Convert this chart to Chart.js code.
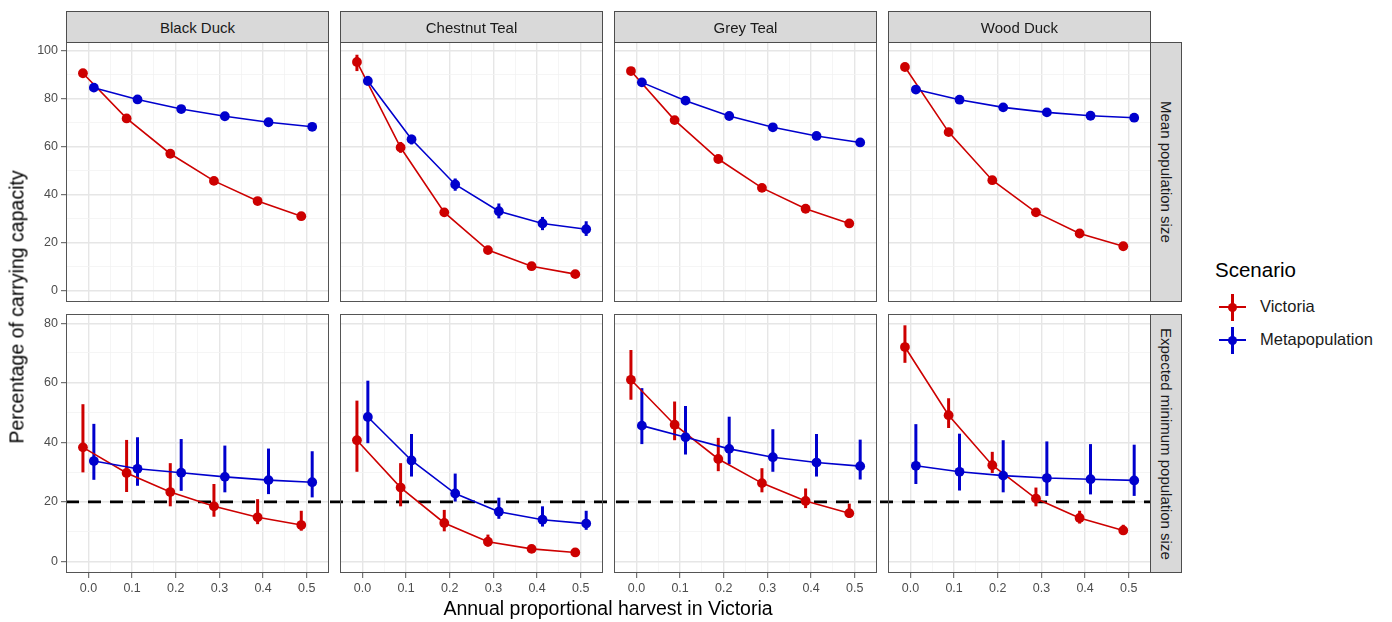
<!DOCTYPE html>
<html>
<head>
<meta charset="utf-8">
<script src="https://cdn.jsdelivr.net/npm/chart.js@4.4.1/dist/chart.umd.min.js"></script>
<style>
  body { margin: 0; background: #fff; font-family: "Liberation Sans", Arial, sans-serif; }
  #wrap { position: relative; width: 1392px; height: 622px; overflow: hidden; }
  canvas { position: absolute; }
  .strip { position: absolute; background: #d9d9d9; border: 1px solid #4d4d4d; box-sizing: border-box;
           display: flex; align-items: center; justify-content: center; font-size: 15px; color: #1a1a1a; }
  .strip.right { writing-mode: vertical-rl; }
  .lbl { position: absolute; white-space: nowrap; color: #000; }
  .key-h, .key-v, .key-dot { position: absolute; }
</style>
</head>
<body>
<div id="wrap"></div>
<script>
// facets
const SPECIES = ['Black Duck', 'Chestnut Teal', 'Grey Teal', 'Wood Duck'];
const MEASURES = ['Mean population size', 'Expected minimum population size'];
const SCENARIOS = ['Victoria', 'Metapopulation'];
const HARVEST = [0, 0.1, 0.2, 0.3, 0.4, 0.5];
const THRESHOLD = 20;

// Mean population size (% of K), Victoria scenario, one row per species
const MEAN_VIC = [
  [90.6, 71.8, 57.1, 45.8, 37.4, 31.1],
  [95.3, 59.7, 32.7, 17.0, 10.3, 7.0],
  [91.5, 71.1, 54.9, 42.9, 34.2, 28.1],
  [93.2, 66.1, 46.1, 32.7, 23.9, 18.6]
];
const MEAN_VIC_LO = [
  [89.4, 70.8, 56.2, 45.0, 36.7, 30.4],
  [91.5, 57.5, 31.0, 16.0, 9.5, 6.3],
  [90.4, 70.1, 54.0, 42.1, 33.5, 27.5],
  [92.1, 65.0, 45.1, 31.9, 23.2, 18.0]
];
const MEAN_VIC_HI = [
  [91.8, 72.8, 58.0, 46.6, 38.1, 31.8],
  [98.3, 62.0, 34.5, 18.2, 11.0, 7.7],
  [92.6, 72.1, 55.8, 43.7, 34.9, 28.7],
  [94.3, 67.2, 47.1, 33.5, 24.6, 19.2]
];
// Mean population size, Metapopulation scenario
const MEAN_META = [
  [84.6, 79.7, 75.7, 72.7, 70.2, 68.3],
  [87.4, 63.1, 44.3, 33.2, 28.1, 25.7],
  [86.8, 79.2, 72.8, 68.1, 64.5, 61.8],
  [83.8, 79.6, 76.4, 74.3, 72.9, 72.1]
];
const MEAN_META_LO = [
  [83.6, 78.8, 74.8, 71.8, 69.3, 67.4],
  [85.5, 61.0, 41.7, 30.2, 25.3, 22.9],
  [85.8, 78.3, 71.9, 67.2, 63.6, 60.9],
  [82.8, 78.7, 75.5, 73.4, 72.0, 71.2]
];
const MEAN_META_HI = [
  [85.6, 80.6, 76.6, 73.6, 71.1, 69.2],
  [89.5, 65.0, 46.8, 36.4, 30.8, 29.0],
  [87.8, 80.1, 73.7, 69.0, 65.4, 62.7],
  [84.8, 80.5, 77.3, 75.2, 73.8, 73.0]
];

// Expected minimum population size (% of K), Victoria scenario
const EMP_VIC = [
  [38.3, 29.7, 23.3, 18.5, 14.8, 12.2],
  [40.7, 24.8, 12.9, 6.6, 4.2, 3.0],
  [61.0, 45.9, 34.4, 26.3, 20.3, 16.2],
  [72.0, 49.1, 32.3, 21.1, 14.6, 10.4]
];
const EMP_VIC_LO = [
  [29.9, 23.3, 18.5, 15.0, 12.5, 10.3],
  [30.1, 18.5, 10.1, 5.0, 3.4, 2.4],
  [54.3, 40.7, 30.3, 23.2, 17.9, 14.6],
  [66.7, 44.8, 29.7, 18.5, 12.7, 9.0]
];
const EMP_VIC_HI = [
  [52.8, 40.8, 33.0, 26.0, 20.9, 17.0],
  [54.0, 33.0, 17.3, 9.0, 5.2, 3.8],
  [71.0, 53.7, 41.5, 31.3, 24.5, 19.4],
  [79.3, 54.8, 36.8, 24.8, 17.0, 12.3]
];
// Expected minimum population size, Metapopulation scenario
const EMP_META = [
  [33.7, 31.1, 29.8, 28.4, 27.3, 26.6],
  [48.5, 33.9, 22.8, 16.7, 14.0, 12.7],
  [45.6, 41.7, 37.8, 35.0, 33.2, 32.0],
  [32.1, 30.1, 28.8, 28.0, 27.6, 27.2]
];
const EMP_META_LO = [
  [27.4, 25.4, 23.7, 23.2, 22.6, 21.5],
  [39.7, 28.5, 20.1, 14.3, 11.7, 10.6],
  [39.4, 35.9, 32.6, 30.1, 28.5, 27.5],
  [26.0, 23.8, 23.2, 22.0, 22.5, 22.0]
];
const EMP_META_HI = [
  [46.2, 41.7, 41.1, 38.9, 37.9, 37.0],
  [60.7, 42.8, 29.5, 21.4, 18.5, 17.0],
  [58.2, 52.2, 48.6, 44.4, 42.8, 40.9],
  [46.1, 42.9, 40.7, 40.3, 39.4, 39.2]
];

const COLORS = ['#cd0000', '#0000cd'];
const DODGE = 0.025;

// layout (px)
const PANEL_X = [66, 340, 614, 888];
const PANEL_W = 263;
const PANEL_Y = [42, 314];
const PANEL_H = [260, 259];
const GAP = 11;
const M = 16;          // spare canvas margin, soaked up by layout padding
const Y_AXIS_W = 44;
const X_AXIS_H = 24;
const Y_RANGES = [[-4.6, 103.6], [-3.9, 83.1]];
const X_RANGE = [-0.0513, 0.551];
const X_GRID = [-0.05, 0, 0.05, 0.1, 0.15, 0.2, 0.25, 0.3, 0.35, 0.4, 0.45, 0.5, 0.55];
const Y_GRID = [
  [0, 10, 20, 30, 40, 50, 60, 70, 80, 90, 100],
  [0, 10, 20, 30, 40, 50, 60, 70, 80]
];
const TICK_FONT = { family: '"Liberation Sans", Arial, sans-serif', size: 12.5 };

const wrap = document.getElementById('wrap');

function addDiv(cls, css, text) {
  const d = document.createElement('div');
  d.className = cls;
  Object.assign(d.style, css);
  if (text) d.textContent = text;
  wrap.appendChild(d);
  return d;
}

const isMajorX = v => Math.abs(v * 10 - Math.round(v * 10)) < 1e-6;
const isMajorY = v => v % 20 === 0;

// error bars, threshold line, panel border
const panelPlugin = {
  id: 'panelDeco',
  beforeDatasetsDraw(chart) {
    const { ctx, chartArea: a, scales: { x, y } } = chart;
    const o = chart.options.plugins.panelDeco;
    ctx.save();
    if (o.hline != null) {
      const py = y.getPixelForValue(o.hline);
      ctx.strokeStyle = '#000';
      ctx.lineWidth = 2.6;
      ctx.setLineDash([13, 9]);
      ctx.lineDashOffset = o.offsetX;
      ctx.beginPath();
      ctx.moveTo(a.left, py);
      ctx.lineTo(a.right + o.extend, py);
      ctx.stroke();
      ctx.setLineDash([]);
    }
    chart.data.datasets.forEach(ds => {
      ctx.strokeStyle = ds.borderColor;
      ctx.lineWidth = 3;
      ds.data.forEach(p => {
        const px = x.getPixelForValue(p.x);
        ctx.beginPath();
        ctx.moveTo(px, y.getPixelForValue(p.lo));
        ctx.lineTo(px, y.getPixelForValue(p.hi));
        ctx.stroke();
      });
    });
    ctx.restore();
  },
  afterDraw(chart) {
    const { ctx, chartArea: a } = chart;
    ctx.save();
    ctx.strokeStyle = '#555';
    ctx.lineWidth = 1;
    ctx.strokeRect(a.left + 0.5, a.top + 0.5, a.right - a.left - 1, a.bottom - a.top - 1);
    ctx.restore();
  }
};

function seriesData(vals, lo, hi, shift) {
  return HARVEST.map((h, i) => ({ x: h + shift, y: vals[i], lo: lo[i], hi: hi[i] }));
}

function makePanel(r, c) {
  const showY = c === 0;
  const showX = r === 1;
  const extend = (r === 1 && c < 3) ? GAP : 0;
  const axW = showY ? Y_AXIS_W : 0;
  const axH = showX ? X_AXIS_H : 0;
  const w = PANEL_W + axW + extend + 2 * M;
  const h = PANEL_H[r] + axH + 2 * M;

  const cv = document.createElement('canvas');
  cv.width = w; cv.height = h;
  cv.style.left = (PANEL_X[c] - axW - M) + 'px';
  cv.style.top = (PANEL_Y[r] - M) + 'px';
  wrap.appendChild(cv);

  const vic = r === 0 ? [MEAN_VIC, MEAN_VIC_LO, MEAN_VIC_HI] : [EMP_VIC, EMP_VIC_LO, EMP_VIC_HI];
  const meta = r === 0 ? [MEAN_META, MEAN_META_LO, MEAN_META_HI] : [EMP_META, EMP_META_LO, EMP_META_HI];

  const mkDs = (label, arrs, shift, color, order) => ({
    label,
    data: seriesData(arrs[0][c], arrs[1][c], arrs[2][c], shift),
    borderColor: color,
    backgroundColor: color,
    borderWidth: 1.6,
    pointRadius: 4.9,
    pointBorderWidth: 0,
    pointBackgroundColor: color,
    tension: 0,
    order
  });

  const pad = { left: M, right: M + extend, top: M, bottom: M };

  const chart = new Chart(cv, {
    type: 'line',
    data: {
      datasets: [
        mkDs(SCENARIOS[0], vic, -DODGE / 2, COLORS[0], 1),
        mkDs(SCENARIOS[1], meta, DODGE / 2, COLORS[1], 0)
      ]
    },
    options: {
      responsive: false,
      animation: false,
      devicePixelRatio: 1,
      layout: { padding: { ...pad }, autoPadding: false },
      scales: {
        x: {
          type: 'linear',
          min: X_RANGE[0],
          max: X_RANGE[1],
          afterBuildTicks: ax => { ax.ticks = X_GRID.map(v => ({ value: v })); },
          afterFit: ax => { ax.height = axH; },
          border: { display: false },
          grid: {
            color: ctx => isMajorX(ctx.tick.value) ? '#e6e6e6' : '#f2f2f2',
            lineWidth: ctx => isMajorX(ctx.tick.value) ? 1.4 : 0.8,
            drawTicks: showX,
            tickLength: 5,
            tickWidth: 1,
            tickColor: ctx => isMajorX(ctx.tick.value) ? '#555' : 'rgba(0,0,0,0)'
          },
          ticks: {
            display: showX,
            autoSkip: false,
            maxRotation: 0,
            padding: 3,
            color: '#4d4d4d',
            font: TICK_FONT,
            callback: v => isMajorX(v) ? v.toFixed(1) : ''
          }
        },
        y: {
          min: Y_RANGES[r][0],
          max: Y_RANGES[r][1],
          afterBuildTicks: ax => { ax.ticks = Y_GRID[r].map(v => ({ value: v })); },
          afterFit: ax => { ax.width = axW; },
          border: { display: false },
          grid: {
            color: ctx => isMajorY(ctx.tick.value) ? '#e6e6e6' : '#f2f2f2',
            lineWidth: ctx => isMajorY(ctx.tick.value) ? 1.4 : 0.8,
            drawTicks: showY,
            tickLength: 5,
            tickWidth: 1,
            tickColor: ctx => isMajorY(ctx.tick.value) ? '#555' : 'rgba(0,0,0,0)'
          },
          ticks: {
            display: showY,
            autoSkip: false,
            padding: 3,
            color: '#4d4d4d',
            font: TICK_FONT,
            callback: v => isMajorY(v) ? String(v) : ''
          }
        }
      },
      plugins: {
        legend: { display: false },
        tooltip: { enabled: false },
        panelDeco: {
          hline: r === 1 ? THRESHOLD : null,
          extend,
          offsetX: PANEL_X[c]
        }
      }
    },
    plugins: [panelPlugin]
  });

  // nudge the padding until the plot area sits exactly on the panel box
  const want = { left: M + axW, top: M, right: M + axW + PANEL_W, bottom: M + PANEL_H[r] };
  for (let k = 0; k < 3; k++) {
    const a = chart.chartArea;
    pad.left += want.left - a.left;
    pad.top += want.top - a.top;
    pad.right += a.right - want.right;
    pad.bottom += a.bottom - want.bottom;
    chart.options.layout.padding = { ...pad };
    chart.update();
  }
}

for (let r = 0; r < 2; r++) {
  for (let c = 0; c < 4; c++) makePanel(r, c);
}

// facet strips
SPECIES.forEach((s, c) => {
  addDiv('strip', { left: PANEL_X[c] + 'px', top: '11px', width: PANEL_W + 'px', height: '32px' }, s);
});
MEASURES.forEach((m, r) => {
  addDiv('strip right', { left: (PANEL_X[3] + PANEL_W - 1) + 'px', top: PANEL_Y[r] + 'px',
    width: '32px', height: PANEL_H[r] + 'px' }, m);
});

// axis titles
addDiv('lbl', { left: '17px', top: '307px', fontSize: '19.5px', transform: 'translate(-50%,-50%) rotate(-90deg)' },
  'Percentage of carrying capacity');
addDiv('lbl', { left: '608px', top: '608px', fontSize: '19.5px', transform: 'translate(-50%,-50%)' },
  'Annual proportional harvest in Victoria');

// legend
addDiv('lbl', { left: '1215px', top: '258px', fontSize: '20.5px' }, 'Scenario');
SCENARIOS.forEach((s, i) => {
  const cy = 307 + i * 33;
  const col = COLORS[i];
  addDiv('key-h', { left: '1219px', top: (cy - 1) + 'px', width: '27px', height: '2px', background: col });
  addDiv('key-v', { left: '1231px', top: (cy - 13) + 'px', width: '3px', height: '27px', background: col });
  addDiv('key-dot', { left: '1228px', top: (cy - 4.5) + 'px', width: '9px', height: '9px', borderRadius: '50%', background: col });
  addDiv('lbl', { left: '1260px', top: (cy - 10) + 'px', fontSize: '16.5px', color: '#1a1a1a' }, s);
});
</script>
</body>
</html>
